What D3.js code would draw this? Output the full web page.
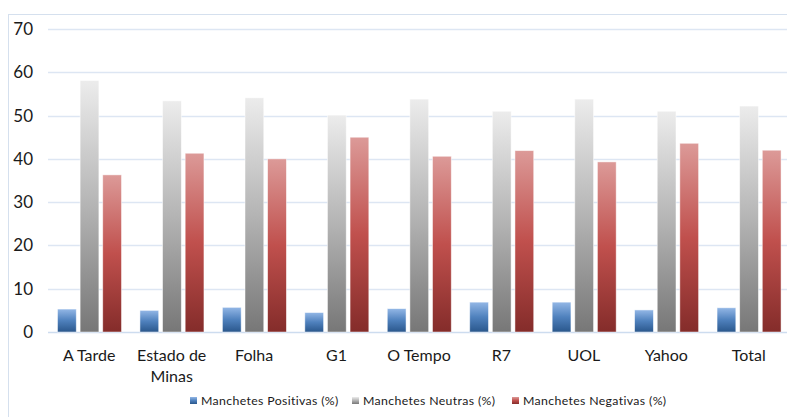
<!DOCTYPE html>
<html>
<head>
<meta charset="utf-8">
<script src="https://cdn.jsdelivr.net/npm/d3@7"></script>
<style>
  body { margin: 0; background: #fff; }
  text { font-family: Lato, "Open Sans", sans-serif; fill: #1a1a1a; }
</style>
</head>
<body>
<div id="chart"></div>
<script>
// Data
const categories = ["A Tarde", "Estado de Minas", "Folha", "G1", "O Tempo", "R7", "UOL", "Yahoo", "Total"];
const seriesNames = ["Manchetes Positivas (%)", "Manchetes Neutras (%)", "Manchetes Negativas (%)"];
const positivas = [5.3, 5.0, 5.7, 4.5, 5.4, 6.9, 6.9, 5.1, 5.6];
const neutras = [58.1, 53.4, 54.1, 50.1, 53.8, 51.0, 53.8, 51.0, 52.2];
const negativas = [36.3, 41.3, 40.0, 45.0, 40.6, 41.9, 39.3, 43.6, 42.0];
const yTicks = [0, 10, 20, 30, 40, 50, 60, 70];

const W = 787, H = 417;
const svg = d3.select("#chart").append("svg")
    .attr("width", W)
    .attr("height", H);

// gradients for each series (light top, dark bottom)
const gradStops = [
    ["#93b7e6", "#4f81bd", "#2a578c"],
    ["#ececec", "#b4b4b4", "#777777"],
    ["#dc9a98", "#c0504d", "#842c2a"]
];
const defs = svg.append("defs");
gradStops.forEach((c, i) => {
    const g = defs.append("linearGradient")
        .attr("id", "grad" + i)
        .attr("x1", 0).attr("y1", 0).attr("x2", 0).attr("y2", 1);
    g.append("stop").attr("offset", "0%").attr("stop-color", c[0]);
    g.append("stop").attr("offset", "50%").attr("stop-color", c[1]);
    g.append("stop").attr("offset", "100%").attr("stop-color", c[2]);
});

// outer chart border (runs off the right and bottom edge)
svg.append("rect")
    .attr("x", 8.5).attr("y", 14.5)
    .attr("width", 800).attr("height", 420)
    .attr("fill", "none")
    .attr("stroke", "#d5e0ee");

const x = d3.scaleBand()
    .domain(categories)
    .range([48, 790]);

const xInner = d3.scaleBand()
    .domain(seriesNames)
    .range([9.5, 73.5])
    .paddingInner(0.17);

const y = d3.scaleLinear()
    .domain([0, 70])
    .range([332, 29]);

// gridlines
svg.append("g")
    .selectAll("line")
    .data(yTicks)
    .join("line")
    .attr("x1", 48).attr("x2", 790)
    .attr("y1", d => Math.round(y(d)) + 0.5)
    .attr("y2", d => Math.round(y(d)) + 0.5)
    .attr("stroke", d => d === 0 ? "#cddcef" : "#dde6f3")
    .attr("stroke-width", 1.3);

// y axis labels
const yAxis = svg.append("g")
    .attr("transform", "translate(33,0)")
    .call(d3.axisLeft(y).tickValues(yTicks).tickSize(0).tickPadding(0));
yAxis.select(".domain").remove();
yAxis.selectAll("text")
    .style("font-family", "Lato, 'Open Sans', sans-serif")
    .style("font-size", "17px")
    .attr("fill", "#1a1a1a");

// bars
const table = categories.map((c, i) => ({
    cat: c,
    vals: [positivas[i], neutras[i], negativas[i]]
}));

const groups = svg.append("g")
    .selectAll("g")
    .data(table)
    .join("g")
    .attr("transform", d => `translate(${x(d.cat)},0)`);

groups.selectAll("rect")
    .data(d => d.vals.map((v, j) => ({ v, j })))
    .join("rect")
    .attr("x", d => xInner(seriesNames[d.j]))
    .attr("y", d => y(d.v))
    .attr("width", xInner.bandwidth())
    .attr("height", d => y(0) - y(d.v))
    .attr("fill", d => `url(#grad${d.j})`)
    .attr("stroke", "#ffffff")
    .attr("stroke-opacity", 0.6)
    .attr("stroke-width", 0.8);

// category labels (wrap "Estado de Minas")
const labelLines = {
    "Estado de Minas": ["Estado de", "Minas"]
};
svg.append("g")
    .selectAll("text")
    .data(categories)
    .join("text")
    .attr("x", d => x(d) + x.bandwidth() / 2)
    .attr("y", 361)
    .attr("text-anchor", "middle")
    .style("font-size", "16px")
    .each(function (d) {
        const lines = labelLines[d] || [d];
        d3.select(this).selectAll("tspan")
            .data(lines)
            .join("tspan")
            .attr("x", x(d) + x.bandwidth() / 2)
            .attr("dy", (l, k) => k === 0 ? 0 : 21)
            .text(l => l);
    });

// legend
const legendX = [190, 352, 512];
const legend = svg.append("g");
seriesNames.forEach((s, i) => {
    legend.append("rect")
        .attr("x", legendX[i]).attr("y", 397)
        .attr("width", 7).attr("height", 7)
        .attr("fill", `url(#grad${i})`);
    legend.append("text")
        .attr("x", legendX[i] + 11)
        .attr("y", 405)
        .style("font-size", "12.3px")
        .style("letter-spacing", "0.35px")
        .text(s);
});
</script>
</body>
</html>
